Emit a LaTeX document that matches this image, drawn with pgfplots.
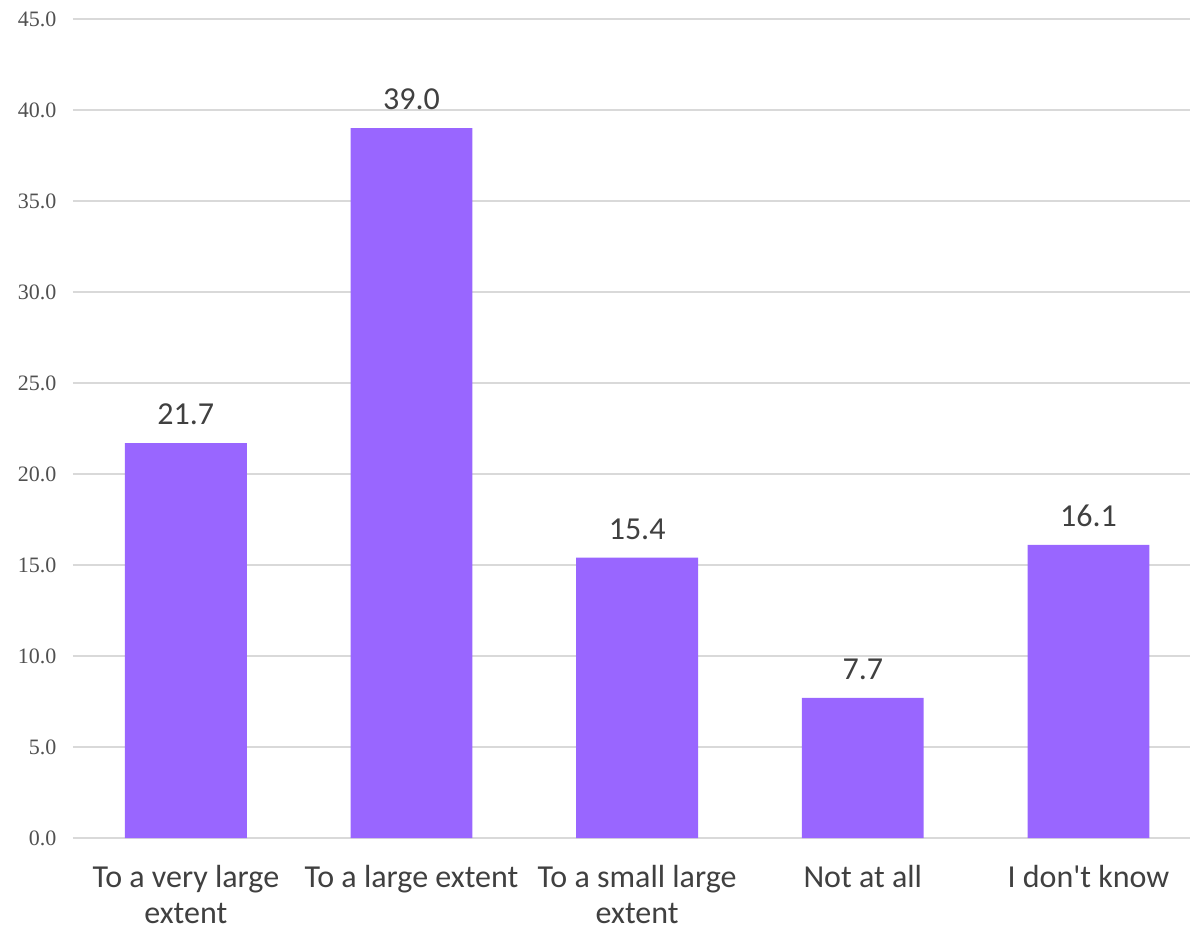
\documentclass[border=0pt]{standalone}
\usepackage{pgfplots}
\pgfplotsset{compat=1.18}
\usepackage{fontspec}
\setmainfont{Carlito}[Ligatures=TeXOff]
\newfontfamily\tickfont{Liberation Serif}
\definecolor{barc}{HTML}{9966FF}
\definecolor{gridc}{HTML}{D9D9D9}
\definecolor{txt}{HTML}{404040}
\definecolor{tick}{HTML}{505050}
\begin{document}
\begin{tikzpicture}
\begin{axis}[
  at={(0,0)}, anchor=south west,
  scale only axis,
  width=837.75pt, height=614.25pt,
  ymin=0, ymax=45, ytick={0,5,...,45},
  xmin=-0.5, xmax=4.45,
  xtick={0,1,2,3,4},
  xticklabels={{To a very large\\extent},{To a large extent},{To a small large\\extent},{Not at all},{I don't know}},
  xticklabel style={align=center, font=\fontsize{24}{27}\selectfont, text=txt, inner sep=1pt, yshift=-19.5pt},
  yticklabel style={font=\tickfont\fontsize{16.5}{18}\selectfont, text=tick, xshift=-9pt},
  /pgf/number format/assume math mode=true,
  yticklabel={\pgfmathprintnumber[fixed,fixed zerofill,precision=1]{\tick}},
  ymajorgrids,
  grid style={gridc, line width=1.1pt},
  axis line style={draw=none},
  major tick length=0pt,
  ybar, bar width=0.54,
  nodes near coords={\pgfmathprintnumber[fixed,fixed zerofill,precision=1]{\pgfplotspointmeta}},
  nodes near coords style={font=\fontsize{24}{26}\selectfont, text=txt, yshift=10pt},
  clip=false,
]
\addplot[fill=barc, draw=none] coordinates {(0,21.7) (1,39.0) (2,15.4) (3,7.7) (4,16.1)};
\end{axis}
\pgfresetboundingbox
\path (-54.75pt,-69.75pt) rectangle (839.25pt,628.5pt);
\end{tikzpicture}
\end{document}
